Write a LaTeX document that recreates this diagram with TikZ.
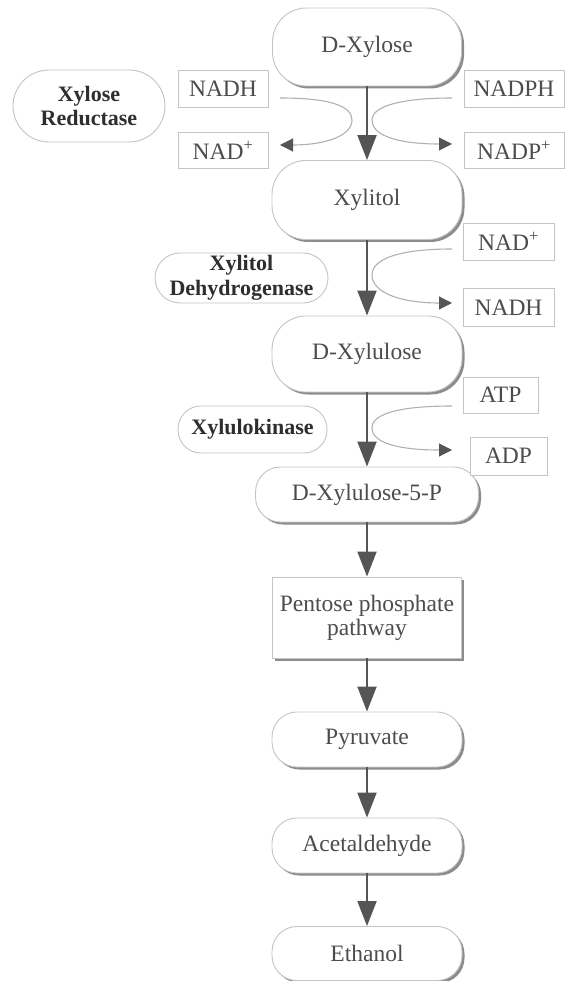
\documentclass[tikz,border=0pt]{standalone}
\usepackage{fontspec}
\setmainfont{Liberation Serif}
\usetikzlibrary{arrows.meta,shadows}

\definecolor{edgegray}{HTML}{C4C4C4}
\definecolor{textgray}{HTML}{4C4C4C}
\definecolor{darktext}{HTML}{2E2E2E}
\definecolor{arrowgray}{HTML}{555555}
\definecolor{curvegray}{HTML}{B0B0B0}
\definecolor{shadowgray}{HTML}{8C8C8C}

\tikzset{
  txt/.style={font=\fontsize{23.5}{24}\selectfont, text=textgray, align=center, inner sep=0pt},
  shade3d/.style={drop shadow={shadow xshift=2.5pt, shadow yshift=-2.5pt, fill=shadowgray, opacity=1}},
  compound/.style={txt, draw=edgegray, line width=0.9pt, fill=white, rounded corners=34pt, shade3d},
  smallcompound/.style={txt, draw=edgegray, line width=0.9pt, fill=white, rounded corners=25pt, shade3d},
  pathwaybox/.style={txt, draw=edgegray, line width=0.9pt, fill=white, shade3d},
  enzyme/.style={txt, font=\fontsize{22}{24.5}\selectfont\bfseries, text=darktext, draw=edgegray, line width=0.9pt, fill=white},
  cofactor/.style={txt, draw=edgegray, line width=0.9pt, fill=white},
  mainarrow/.style={draw=arrowgray, line width=2pt, -{Triangle[length=25pt, width=19pt]}},
  sidearrow/.style={draw=curvegray, line width=1.1pt, -{Triangle[length=13pt, width=13pt, color=arrowgray]}},
}

\begin{document}
\begin{tikzpicture}[x=1pt, y=-1pt]
  \useasboundingbox (0,0) rectangle (565,981);

  % main pathway, all on one vertical axis
  \node[compound, minimum width=189pt, minimum height=78pt] (dxylose) at (367,47) {D-Xylose};
  \node[compound, minimum width=190pt, minimum height=79pt] (xylitol) at (367,200) {Xylitol};
  \node[compound, minimum width=190pt, minimum height=76pt] (dxylulose) at (367,354) {D-Xylulose};
  \node[smallcompound, minimum width=223pt, minimum height=55pt] (dx5p) at (367,494.5) {D-Xylulose-5-P};
  \node[pathwaybox, minimum width=189pt, minimum height=81pt] (ppp) at (367,617.5) {Pentose phosphate\\pathway};
  \node[smallcompound, minimum width=190pt, minimum height=55pt] (pyruvate) at (367,739.5) {Pyruvate};
  \node[smallcompound, minimum width=190pt, minimum height=55pt] (acetaldehyde) at (367,845.5) {Acetaldehyde};
  \node[smallcompound, minimum width=190pt, minimum height=54pt] (ethanol) at (367,953.5) {Ethanol};

  % enzymes
  \node[enzyme, rounded corners=36pt, minimum width=152pt, minimum height=72pt] (xr) at (89,106) {Xylose\\Reductase};
  \node[enzyme, rounded corners=25pt, minimum width=173pt, minimum height=50pt] (xdh) at (241.5,278) {Xylitol\\Dehydrogenase};
  \node[enzyme, rounded corners=23pt, minimum width=149pt, minimum height=47pt] (xk) at (252.5,429.5) {Xylulokinase};

  % cofactors
  \node[cofactor, minimum width=90pt, minimum height=37pt] (nadhA) at (223,88.5) {NADH};
  \node[cofactor, minimum width=90pt, minimum height=36pt] (nadA) at (223,150) {NAD\textsuperscript{+}};
  \node[cofactor, minimum width=100pt, minimum height=37pt] (nadphA) at (514,88.5) {NADPH};
  \node[cofactor, minimum width=100pt, minimum height=36pt] (nadpA) at (514,150) {NADP\textsuperscript{+}};
  \node[cofactor, minimum width=91pt, minimum height=37pt] (nadB) at (508.5,241.5) {NAD\textsuperscript{+}};
  \node[cofactor, minimum width=91pt, minimum height=38pt] (nadhB) at (508.5,307.5) {NADH};
  \node[cofactor, minimum width=75pt, minimum height=36pt] (atp) at (500.5,395) {ATP};
  \node[cofactor, minimum width=77pt, minimum height=38pt] (adp) at (508.5,456) {ADP};

  % main arrows
  \draw[mainarrow] (dxylose) -- (xylitol);
  \draw[mainarrow] (xylitol) -- (dxylulose);
  \draw[mainarrow] (dxylulose) -- (dx5p);
  \draw[mainarrow] (dx5p) -- (ppp);
  \draw[mainarrow] (ppp) -- (pyruvate);
  \draw[mainarrow] (pyruvate) -- (acetaldehyde);
  \draw[mainarrow] (acetaldehyde) -- (ethanol);

  % cofactor turnover curves
  \coordinate (nadhAout) at (280,98);
  \coordinate (nadAin) at (280,145);
  \coordinate (nadphAout) at (452,98);
  \coordinate (nadpAin) at (452,144);
  \coordinate (nadBout) at (452,249);
  \coordinate (nadhBin) at (452,303);
  \coordinate (atpout) at (452,406);
  \coordinate (adpin) at (452,450);

  \draw[sidearrow] (nadhAout) .. controls (330,98) and (352,106) .. (352,120) .. controls (352,136) and (325,145) .. (nadAin);
  \draw[sidearrow] (nadphAout) .. controls (402,98) and (372,106) .. (372,120) .. controls (372,136) and (399,144) .. (nadpAin);
  \draw[sidearrow] (nadBout) .. controls (402,249) and (372,258) .. (372,275) .. controls (372,292) and (399,303) .. (nadhBin);
  \draw[sidearrow] (atpout) .. controls (402,406) and (372,413) .. (372,428) .. controls (372,443) and (399,450) .. (adpin);
\end{tikzpicture}
\end{document}
